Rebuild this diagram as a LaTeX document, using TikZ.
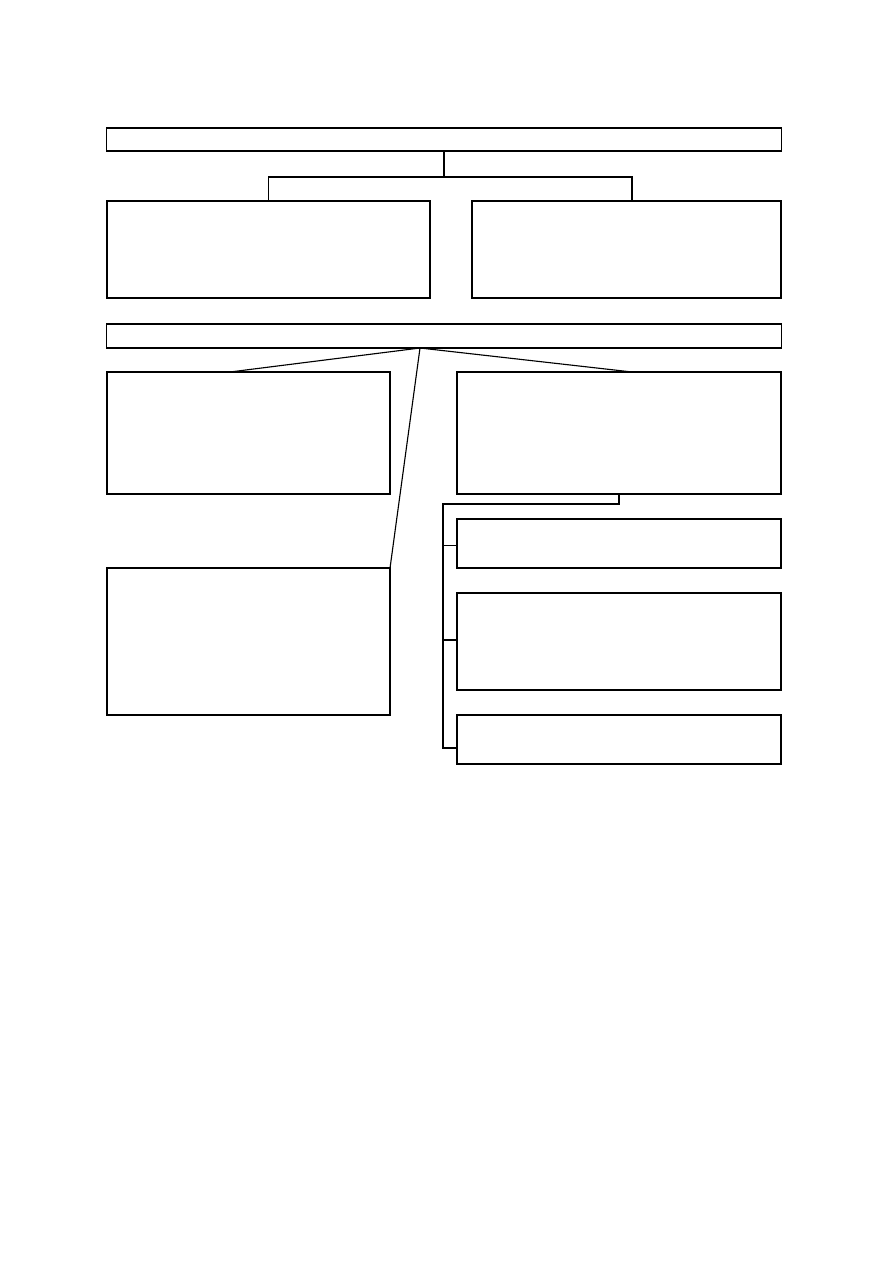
\documentclass[tikz,border=0pt]{standalone}
\begin{document}
\begin{tikzpicture}[x=0.025cm,y=-0.025cm,line width=0.8pt,
                    every node/.style={shape=rectangle,draw,inner sep=0pt,outer sep=0pt},
                    kasten/.style={minimum width=#1},
                    flach/.style={minimum height=0.575cm},
                    klein/.style={minimum height=1.225cm}]
	\path[use as bounding box] (0,0) rectangle (893,1263);
	\node[kasten=16.85cm,flach] (kopf) at (444,139.5) {};
	\node[kasten=8.075cm,minimum height=2.425cm] (links) at (268.5,249.5) {};
	\node[kasten=7.725cm,minimum height=2.425cm] (rechts) at (626.5,249.5) {};
	\node[kasten=16.85cm,minimum height=0.6cm] (balken) at (444,336) {};
	\node[kasten=7.075cm,minimum height=3.05cm] (a) at (248.5,433) {};
	\node[kasten=8.1cm,minimum height=3.05cm] (b) at (619,433) {};
	\node[kasten=7.075cm,minimum height=3.675cm] (c) at (248.5,641.5) {};
	\node[kasten=8.1cm,klein] (d) at (619,543.5) {};
	\node[kasten=8.1cm,minimum height=2.425cm] (e) at (619,641.5) {};
	\node[kasten=8.1cm,klein] (f) at (619,739.5) {};
	\coordinate (gabel) at (444,177);
	\coordinate (fan) at (420,348);
	\coordinate (knick) at (619,504);
	\coordinate (leiste) at (443,504);
	\draw (kopf.south) -- (gabel);
	\draw (links.north) |- (gabel) -| ([xshift=0.1375cm]rechts.north);
	\draw ([xshift=-0.4625cm]a.north) -- (fan) -- ([xshift=0.325cm]b.north);
	\draw (fan) -- (c.north east);
	\draw (b.south) -- (knick) -- (leiste) -- (leiste |- 0,748) -- (f.west |- 0,748);
	\draw (leiste |- 0,545.5) -- (d.west |- 0,545.5);
	\draw (leiste |- 0,640) -- (e.west |- 0,640);
\end{tikzpicture}
\end{document}
